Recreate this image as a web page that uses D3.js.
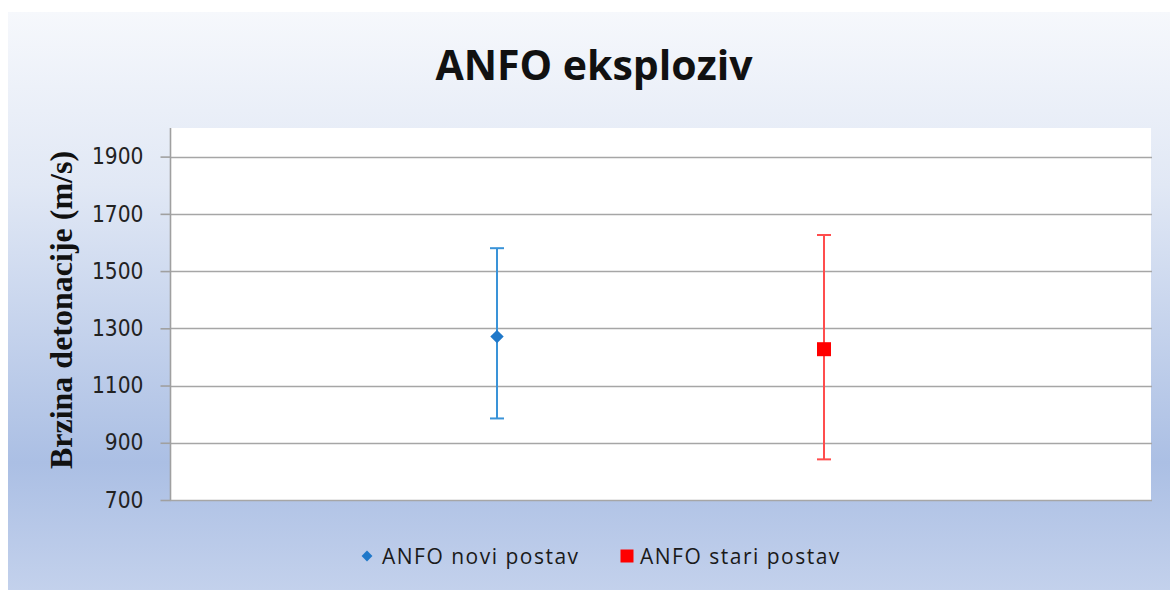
<!DOCTYPE html>
<html><head><meta charset="utf-8">
<script src="https://cdn.jsdelivr.net/npm/d3@7"></script>
<style>html,body{margin:0;padding:0;background:#fff;}</style>
</head><body>
<svg id="chart" width="1170" height="590"></svg>
<script>
const title = "ANFO eksploziv";
const yTitle = "Brzina detonacije (m/s)";
const seriesNames = ["ANFO novi postav", "ANFO stari postav"];
const xValues = [1, 2];
const means = [1271, 1227];
const lowerBounds = [985, 842];
const upperBounds = [1580, 1626];
const yTicks = [700, 900, 1100, 1300, 1500, 1700, 1900];
const colors = ["#1f78c9", "#ff0000"];
const errColors = ["#3a93d8", "#ff4d4d"];

(function () {
const svg = d3.select("#chart");
const defs = svg.append("defs");
const grad = defs.append("linearGradient").attr("id","bg").attr("x1",0).attr("y1",0).attr("x2",0).attr("y2",1);
grad.append("stop").attr("offset","0").attr("stop-color","#f6f8fc");
grad.append("stop").attr("offset","0.3").attr("stop-color","#e1e8f5");
grad.append("stop").attr("offset","0.78").attr("stop-color","#abbfe4");
grad.append("stop").attr("offset","1").attr("stop-color","#c3d1ec");

svg.append("rect").attr("x",8).attr("y",12).attr("width",1162).attr("height",578).attr("fill","url(#bg)");

const pLeft = 170, pRight = 1151, pTop = 128, pBottom = 500;
const x = d3.scaleLinear().domain([0, 3]).range([pLeft, pRight]);
const y = d3.scaleLinear().domain([700, 2000]).range([pBottom, pTop]);

svg.append("rect").attr("x",pLeft).attr("y",pTop).attr("width",pRight-pLeft).attr("height",pBottom-pTop).attr("fill","#ffffff");

// gridlines
svg.append("g").selectAll("line").data(yTicks).join("line")
  .attr("x1", pLeft).attr("x2", pRight+1)
  .attr("y1", d => Math.round(y(d))+0.5).attr("y2", d => Math.round(y(d))+0.5)
  .attr("stroke", "#a6a6a6").attr("stroke-width", 1.6);

// y axis
const yAxis = d3.axisLeft(y).tickValues(yTicks).tickFormat(d3.format("d")).tickSize(10).tickSizeOuter(0).tickPadding(17);
const ga = svg.append("g").attr("transform", `translate(${pLeft+0.5},0)`).call(yAxis);
ga.select(".domain").attr("stroke","#a0a0a0").attr("stroke-width",1.6).attr("d", `M0,${pTop}V${pBottom}`);
ga.selectAll(".tick line").attr("stroke","#a0a0a0").attr("stroke-width",1.6);
ga.selectAll(".tick text").attr("font-family","'DejaVu Sans Condensed', 'DejaVu Sans', sans-serif")
  .attr("font-size", 22.5).attr("fill","#222").attr("font-stretch","condensed");

// title
svg.append("text").attr("x", 594).attr("y", 80).attr("text-anchor","middle")
  .attr("font-family","'Open Sans', sans-serif").attr("font-weight","bold").attr("font-size",41)
  .attr("fill","#111").text(title);

// y title
svg.append("text").attr("transform", `translate(72,${(pTop+pBottom)/2 - 4}) rotate(-90)`)
  .attr("text-anchor","middle").attr("font-family","'Liberation Serif', serif").attr("font-weight","bold")
  .attr("font-size",32).attr("fill","#111").text(yTitle);

// error bars
const idx = d3.range(xValues.length);
const eb = svg.append("g");
idx.forEach(i => {
  const cx = x(xValues[i]);
  const g = eb.append("g").attr("stroke", errColors[i]).attr("stroke-width", 2);
  g.append("line").attr("x1",cx).attr("x2",cx).attr("y1",y(upperBounds[i])).attr("y2",y(lowerBounds[i]));
  g.append("line").attr("x1",cx-7).attr("x2",cx+7).attr("y1",y(upperBounds[i])).attr("y2",y(upperBounds[i]));
  g.append("line").attr("x1",cx-7).attr("x2",cx+7).attr("y1",y(lowerBounds[i])).attr("y2",y(lowerBounds[i]));
});

// markers
svg.append("path").attr("d", d3.symbol().type(d3.symbolDiamond2).size(115)())
  .attr("transform", `translate(${x(xValues[0])},${y(means[0])})`).attr("fill", colors[0]);
svg.append("path").attr("d", d3.symbol().type(d3.symbolSquare).size(196)())
  .attr("transform", `translate(${x(xValues[1])},${y(means[1])})`).attr("fill", colors[1]);

// legend
const legendItems = [
  {sym: d3.symbolDiamond2, size: 75, x: 367, tx: 382},
  {sym: d3.symbolSquare, size: 169, x: 627, tx: 640}
];
legendItems.forEach((it, i) => {
  svg.append("path").attr("d", d3.symbol().type(it.sym).size(it.size)())
    .attr("transform", `translate(${it.x},556)`).attr("fill", colors[i]);
  svg.append("text").attr("x", it.tx).attr("y", 563.5)
    .attr("font-family","'Open Sans', sans-serif").attr("font-size",21).attr("letter-spacing",1.5)
    .attr("fill","#1a1a1a").text(seriesNames[i]);
});
})();
</script>
</body></html>
